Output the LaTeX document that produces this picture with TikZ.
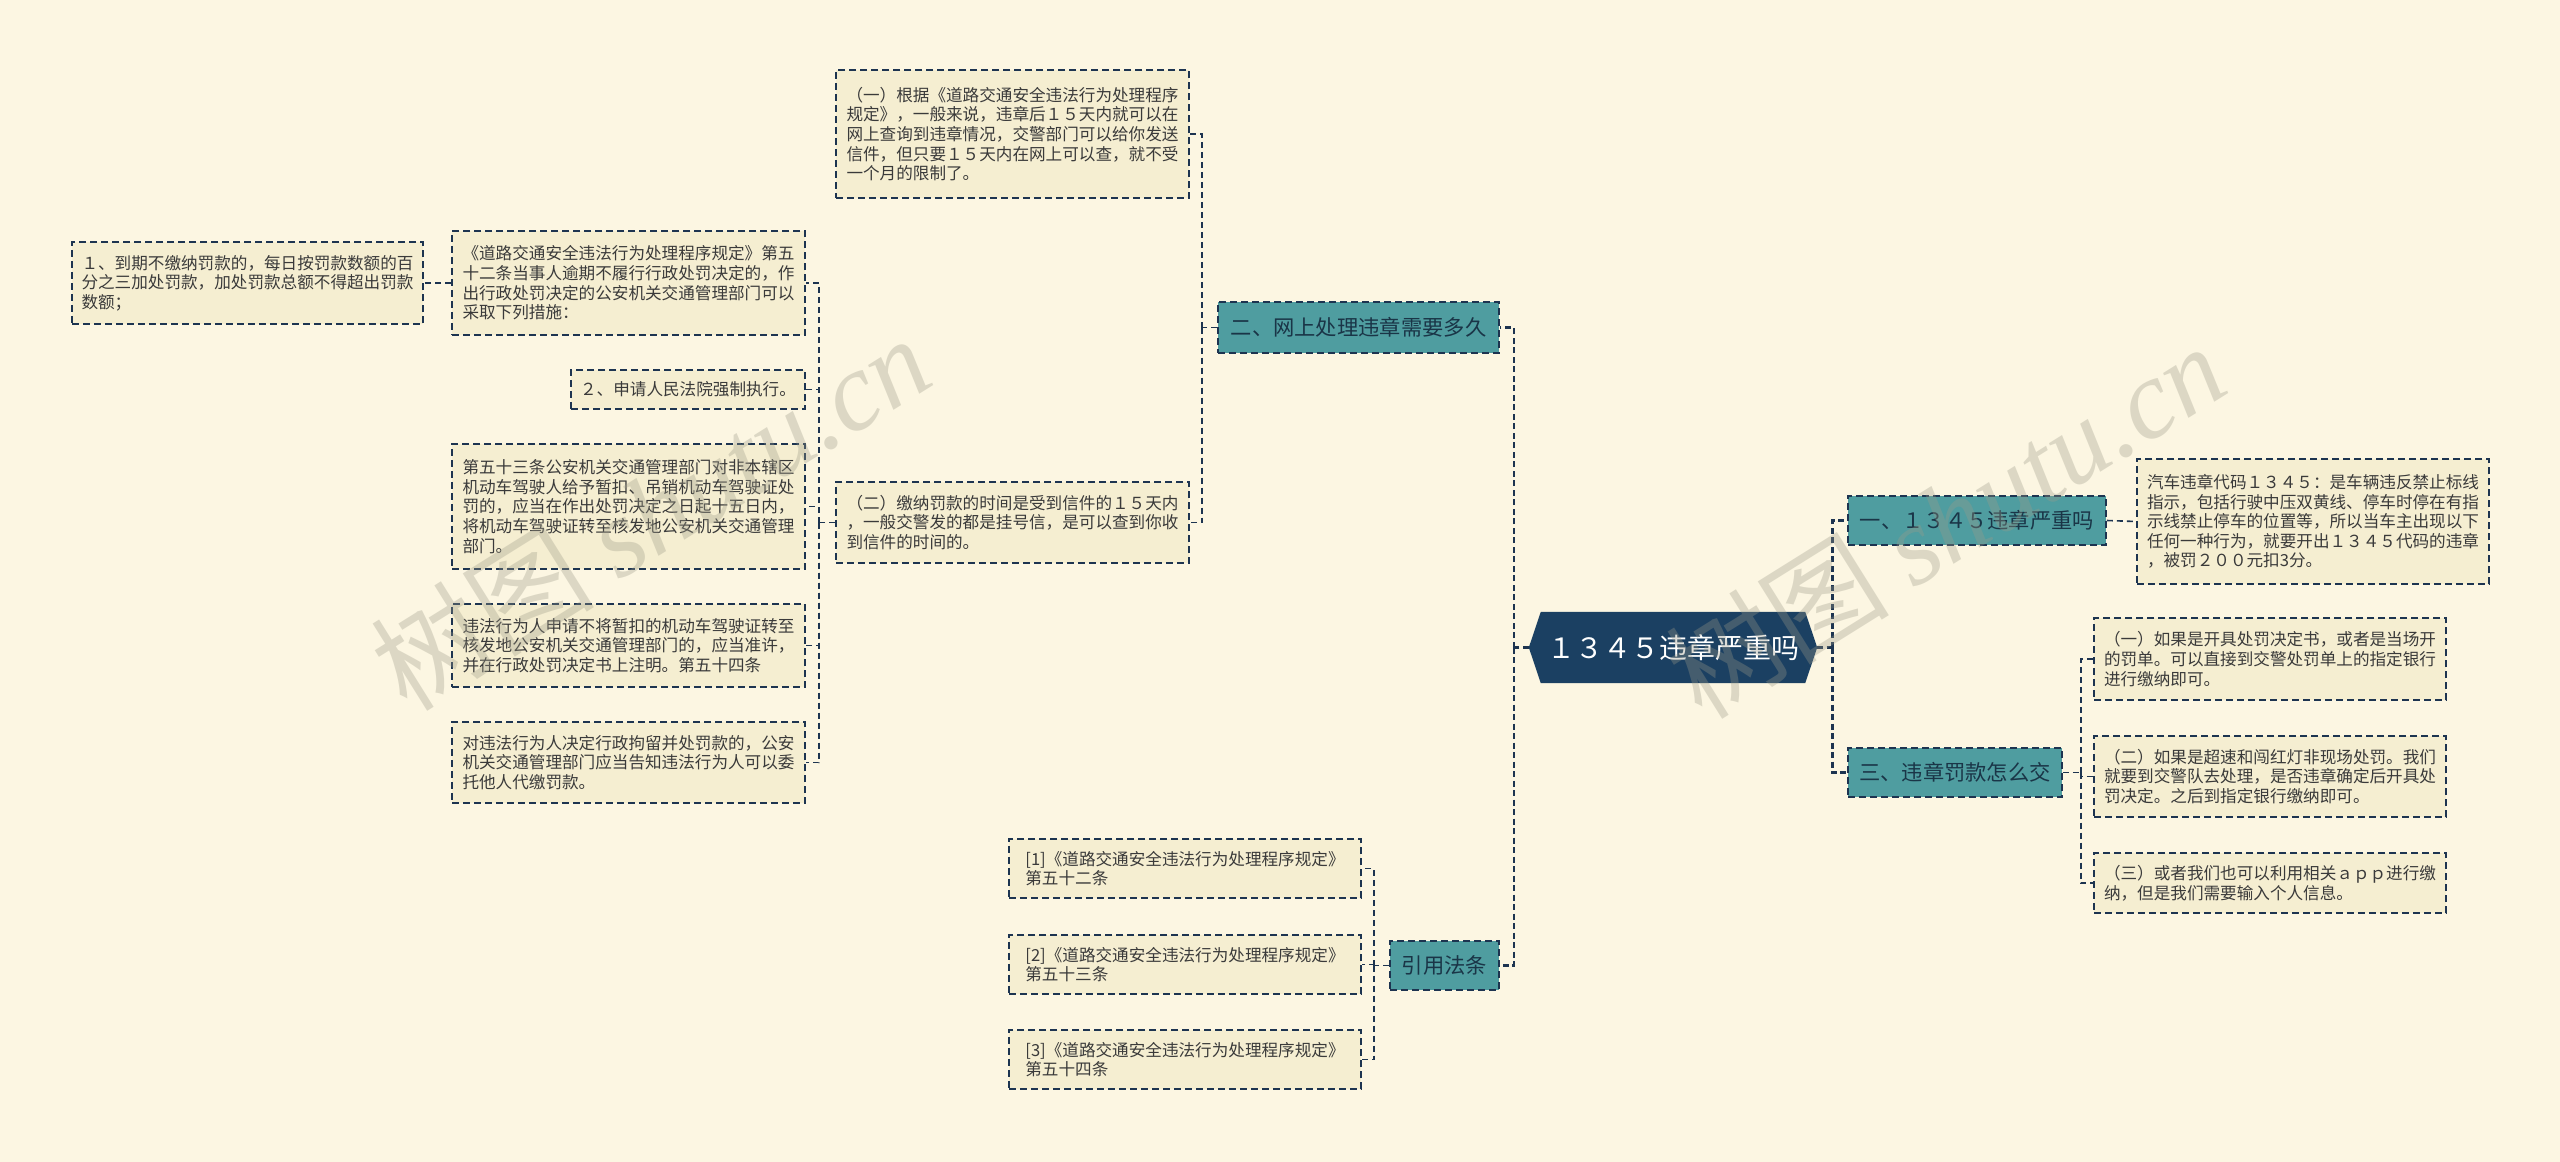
\documentclass[tikz,border=0pt]{standalone}
\usepackage{fontspec}
\setmainfont{Noto Sans CJK SC}
\newfontfamily\wmlatin{Liberation Serif}
\usetikzlibrary{backgrounds}
\definecolor{bgc}{HTML}{FCF6E2}
\definecolor{leafc}{HTML}{F5EED1}
\definecolor{branchc}{HTML}{4F9DA0}
\definecolor{rootc}{HTML}{1B4062}
\definecolor{linec}{HTML}{1D3450}
\definecolor{leaftext}{HTML}{3A3A3A}
\definecolor{branchtext}{HTML}{1A3547}
\definecolor{wmc}{HTML}{9C9A88}
\tikzset{
  leafbox/.style={draw=linec, line width=1.6pt, dash pattern=on 7pt off 4pt,
    fill=leafc, align=left, inner sep=0pt, text=leaftext,
    font=\fontsize{16.6}{19.6}\selectfont},
  branchbox/.style={draw=linec, line width=1.6pt, dash pattern=on 7pt off 4pt,
    fill=branchc, inner sep=0pt, text=branchtext,
    font=\fontsize{21.3}{24}\selectfont},
  conn/.style={draw=linec, line width=1.6pt, dash pattern=on 6pt off 4pt},
  trunk/.style={draw=linec, line width=2.6pt, dash pattern=on 6pt off 3.5pt},
  wmark/.style={text=wmc, opacity=0.33, rotate=32, inner sep=0pt}
}
\begin{document}
\begin{tikzpicture}[x=1pt,y=-1pt]
\useasboundingbox (0,0) rectangle (2560,1162);

% root
\node[inner sep=0pt, minimum width=288pt, minimum height=71pt, text=white,
  font=\fontsize{28}{32}\selectfont] (root) at (1673,647.5) {１３４５违章严重吗};

% branches
\node[branchbox, minimum width=281pt, minimum height=51pt] (b2) at (1358.5,327.5) {二、网上处理违章需要多久};
\node[branchbox, minimum width=109pt, minimum height=49pt] (b4) at (1444.5,965.5) {引用法条};
\node[branchbox, minimum width=258pt, minimum height=49pt] (b1) at (1977,520.5) {一、１３４５违章严重吗};
\node[branchbox, minimum width=214pt, minimum height=49pt] (b3) at (1955,772.5) {三、违章罚款怎么交};

% leaves of b2
\node[leafbox, minimum width=353pt, minimum height=128pt] (t1) at (1012.5,134) {（一）根据《道路交通安全违法行为处理程序\\规定》，一般来说，违章后１５天内就可以在\\网上查询到违章情况，交警部门可以给你发送\\信件，但只要１５天内在网上可以查，就不受\\一个月的限制了。};
\node[leafbox, minimum width=353pt, minimum height=81pt] (t2) at (1012.5,522.5) {（二）缴纳罚款的时间是受到信件的１５天内\\，一般交警发的都是挂号信，是可以查到你收\\到信件的时间的。};

% children of t2
\node[leafbox, minimum width=353pt, minimum height=104pt] (law) at (628.5,283) {《道路交通安全违法行为处理程序规定》第五\\十二条当事人逾期不履行行政处罚决定的，作\\出行政处罚决定的公安机关交通管理部门可以\\采取下列措施：};
\node[leafbox, minimum width=351pt, minimum height=82pt] (m1) at (247.5,283) {１、到期不缴纳罚款的，每日按罚款数额的百\\分之三加处罚款，加处罚款总额不得超出罚款\\数额；};
\node[leafbox, minimum width=234pt, minimum height=39pt] (m2) at (688,389.5) {２、申请人民法院强制执行。};
\node[leafbox, minimum width=353pt, minimum height=125pt] (a53) at (628.5,506.5) {第五十三条公安机关交通管理部门对非本辖区\\机动车驾驶人给予暂扣、吊销机动车驾驶证处\\罚的，应当在作出处罚决定之日起十五日内，\\将机动车驾驶证转至核发地公安机关交通管理\\部门。};
\node[leafbox, minimum width=353pt, minimum height=83pt] (a54) at (628.5,645.5) {违法行为人申请不将暂扣的机动车驾驶证转至\\核发地公安机关交通管理部门的，应当准许，\\并在行政处罚决定书上注明。第五十四条};
\node[leafbox, minimum width=353pt, minimum height=81pt] (a55) at (628.5,762.5) {对违法行为人决定行政拘留并处罚款的，公安\\机关交通管理部门应当告知违法行为人可以委\\托他人代缴罚款。};

% references
\node[leafbox, minimum width=352pt, minimum height=59pt] (r1) at (1185,868.5) {[1]《道路交通安全违法行为处理程序规定》\\第五十二条};
\node[leafbox, minimum width=352pt, minimum height=59pt] (r2) at (1185,964.5) {[2]《道路交通安全违法行为处理程序规定》\\第五十三条};
\node[leafbox, minimum width=352pt, minimum height=59pt] (r3) at (1185,1059.5) {[3]《道路交通安全违法行为处理程序规定》\\第五十四条};

% right side
\node[leafbox, minimum width=352pt, minimum height=125pt] (car) at (2313,521.5) {汽车违章代码１３４５：是车辆违反禁止标线\\指示，包括行驶中压双黄线、停车时停在有指\\示线禁止停车的位置等，所以当车主出现以下\\任何一种行为，就要开出１３４５代码的违章\\，被罚２００元扣3分。};
\node[leafbox, minimum width=352pt, minimum height=82pt] (p1) at (2270,659) {（一）如果是开具处罚决定书，或者是当场开\\的罚单。可以直接到交警处罚单上的指定银行\\进行缴纳即可。};
\node[leafbox, minimum width=352pt, minimum height=81pt] (p2) at (2270,776.5) {（二）如果是超速和闯红灯非现场处罚。我们\\就要到交警队去处理，是否违章确定后开具处\\罚决定。之后到指定银行缴纳即可。};
\node[leafbox, minimum width=352pt, minimum height=60pt] (p3) at (2270,883) {（三）或者我们也可以利用相关ａｐｐ进行缴\\纳，但是我们需要输入个人信息。};

% connectors level 1
\coordinate (JL) at ([xshift=-15pt]root.west);
\coordinate (JR) at ([xshift=15pt]root.east);
\draw[trunk] (root.west) -- (JL);
\draw[trunk] (JL) |- (b2.east);
\draw[trunk] (JL) |- (b4.east);
\draw[trunk] (root.east) -- (JR);
\draw[trunk] (JR) |- (b1.west);
\draw[trunk] (JR) |- (b3.west);

% b2 children
\coordinate (J2) at ([xshift=-15pt]b2.west);
\draw[conn] (b2.west) -- (J2);
\draw[conn] (J2) |- (t1.east);
\draw[conn] (J2) |- (t2.east);

% t2 children
\coordinate (J3) at ([xshift=-16pt]t2.west);
\draw[conn] (t2.west) -- (J3);
\draw[conn] (J3) |- (law.east);
\draw[conn] (J3) |- (m2.east);
\draw[conn] (J3) |- (a53.east);
\draw[conn] (J3) |- (a54.east);
\draw[conn] (J3) |- (a55.east);
\draw[conn] (law.west) -- (m1.east);

% b4 children
\coordinate (J4) at ([xshift=-15pt]b4.west);
\draw[conn] (b4.west) -- (J4);
\draw[conn] (J4) |- (r1.east);
\draw[conn] (J4) |- (r2.east);
\draw[conn] (J4) |- (r3.east);

% b1 child
\draw[conn] (b1.east) -- (car.west);

% b3 children
\coordinate (J5) at ([xshift=18pt]b3.east);
\draw[conn] (b3.east) -- (J5);
\draw[conn] (J5) |- (p1.west);
\draw[conn] (J5) |- (p2.west);
\draw[conn] (J5) |- (p3.west);

\begin{scope}[on background layer]
\fill[bgc] (0,0) rectangle (2560,1162);
\fill[rootc] (root.west) -- ([xshift=12pt]root.north west) -- ([xshift=-12pt]root.north east)
  -- (root.east) -- ([xshift=-12pt]root.south east) -- ([xshift=12pt]root.south west) -- cycle;
\end{scope}

% watermarks
\node[wmark, font=\fontsize{112}{120}\selectfont] (wm1) at (650,512) {树图 {\wmlatin\itshape shutu.cn}};
\node[wmark, font=\fontsize{112}{120}\selectfont] (wm2) at (1945,520) {树图 {\wmlatin\itshape shutu.cn}};
\end{tikzpicture}
\end{document}
